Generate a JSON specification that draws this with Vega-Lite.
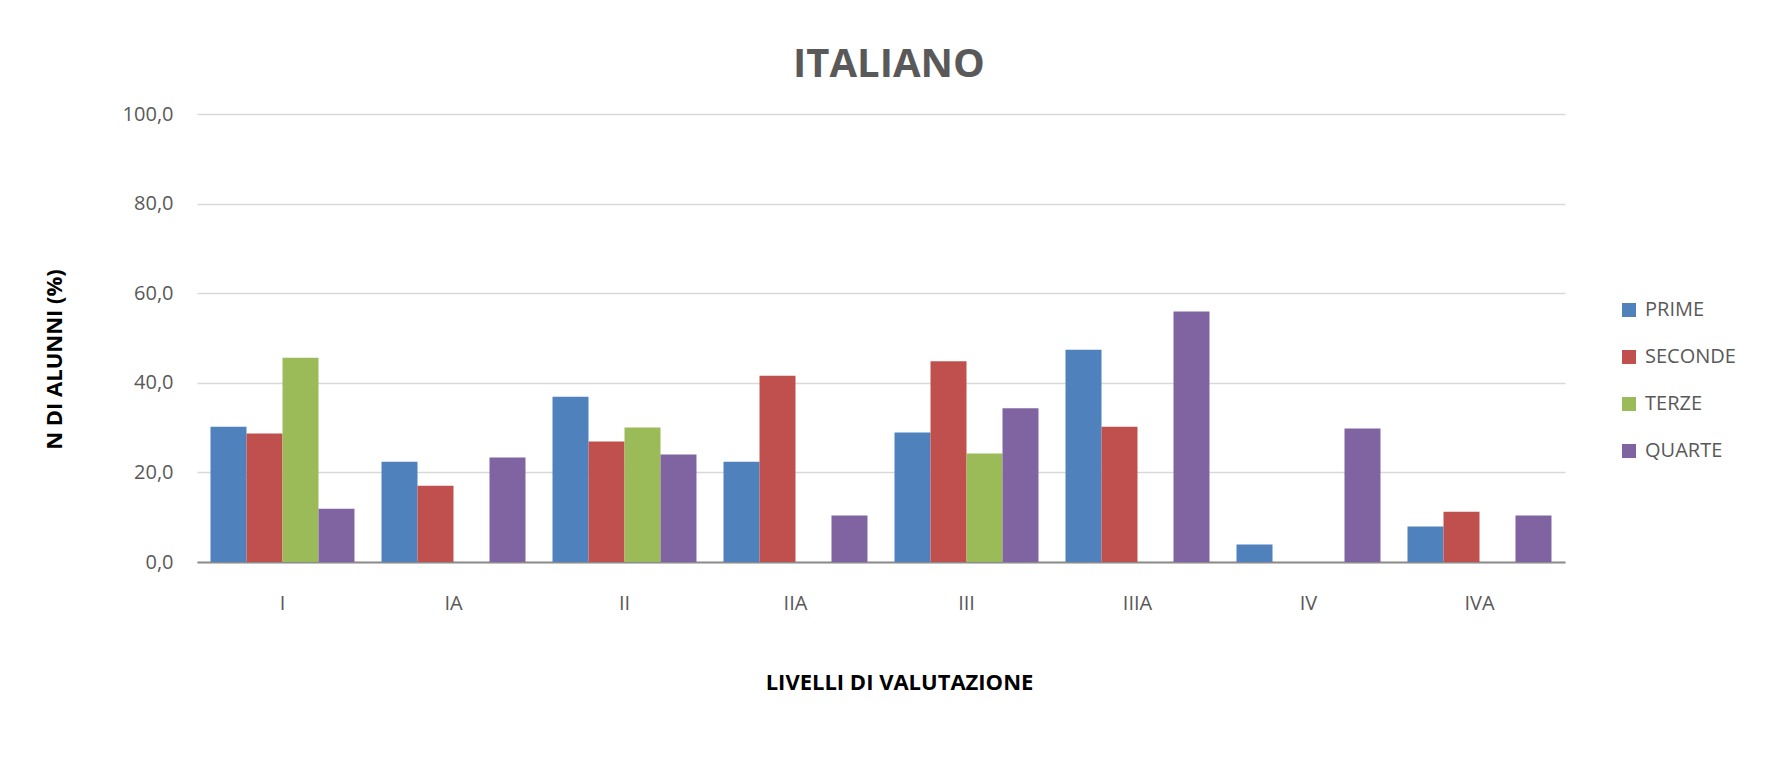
{
  "$schema": "https://vega.github.io/schema/vega-lite/v6.json",
  "autosize": {"type": "none"},
  "padding": {"left": 197, "top": 114, "right": 203, "bottom": 197},
  "width": 1368,
  "height": 448,
  "background": "white",
  "title": {
    "text": "ITALIANO",
    "font": "Open Sans",
    "fontSize": 40,
    "fontWeight": "bold",
    "color": "#595959",
    "anchor": "middle",
    "frame": "group",
    "dx": 8,
    "baseline": "alphabetic",
    "offset": -13
  },
  "data": {
    "values": [
      {"livello": "I", "classe": "PRIME", "valore": 30.2},
      {"livello": "I", "classe": "SECONDE", "valore": 28.7},
      {"livello": "I", "classe": "TERZE", "valore": 45.6},
      {"livello": "I", "classe": "QUARTE", "valore": 11.9},
      {"livello": "IA", "classe": "PRIME", "valore": 22.4},
      {"livello": "IA", "classe": "SECONDE", "valore": 17.0},
      {"livello": "IA", "classe": "TERZE", "valore": 0},
      {"livello": "IA", "classe": "QUARTE", "valore": 23.3},
      {"livello": "II", "classe": "PRIME", "valore": 36.9},
      {"livello": "II", "classe": "SECONDE", "valore": 26.9},
      {"livello": "II", "classe": "TERZE", "valore": 30.0},
      {"livello": "II", "classe": "QUARTE", "valore": 24.0},
      {"livello": "IIA", "classe": "PRIME", "valore": 22.4},
      {"livello": "IIA", "classe": "SECONDE", "valore": 41.6},
      {"livello": "IIA", "classe": "TERZE", "valore": 0},
      {"livello": "IIA", "classe": "QUARTE", "valore": 10.4},
      {"livello": "III", "classe": "PRIME", "valore": 28.9},
      {"livello": "III", "classe": "SECONDE", "valore": 44.8},
      {"livello": "III", "classe": "TERZE", "valore": 24.2},
      {"livello": "III", "classe": "QUARTE", "valore": 34.3},
      {"livello": "IIIA", "classe": "PRIME", "valore": 47.4},
      {"livello": "IIIA", "classe": "SECONDE", "valore": 30.2},
      {"livello": "IIIA", "classe": "TERZE", "valore": 0},
      {"livello": "IIIA", "classe": "QUARTE", "valore": 55.9},
      {"livello": "IV", "classe": "PRIME", "valore": 3.9},
      {"livello": "IV", "classe": "SECONDE", "valore": 0},
      {"livello": "IV", "classe": "TERZE", "valore": 0},
      {"livello": "IV", "classe": "QUARTE", "valore": 29.8},
      {"livello": "IVA", "classe": "PRIME", "valore": 7.9},
      {"livello": "IVA", "classe": "SECONDE", "valore": 11.2},
      {"livello": "IVA", "classe": "TERZE", "valore": 0},
      {"livello": "IVA", "classe": "QUARTE", "valore": 10.4}
    ]
  },
  "mark": {"type": "bar"},
  "encoding": {
    "x": {
      "field": "livello",
      "type": "nominal",
      "sort": ["I", "IA", "II", "IIA", "III", "IIIA", "IV", "IVA"],
      "scale": {"paddingInner": 0.158, "paddingOuter": 0.079},
      "axis": {
        "title": "LIVELLI DI VALUTAZIONE",
        "titleFont": "Open Sans",
        "titleFontSize": 22,
        "titleFontWeight": "bold",
        "titleColor": "#000000",
        "titleX": 702,
        "titleY": 127,
        "titleAlign": "center",
        "titleBaseline": "alphabetic",
        "labelAngle": 0,
        "labelFont": "Open Sans",
        "labelFontSize": 20,
        "labelColor": "#595959",
        "labelBaseline": "alphabetic",
        "labelPadding": 47,
        "ticks": false,
        "tickSize": 0,
        "domainColor": "#8C8C8C",
        "domainWidth": 2,
        "grid": false
      }
    },
    "xOffset": {
      "field": "classe",
      "type": "nominal",
      "sort": ["PRIME", "SECONDE", "TERZE", "QUARTE"],
      "scale": {"domain": ["PRIME", "SECONDE", "TERZE", "QUARTE"], "paddingInner": 0, "paddingOuter": 0}
    },
    "y": {
      "field": "valore",
      "type": "quantitative",
      "scale": {"domain": [0, 100], "nice": false},
      "axis": {
        "title": "N DI ALUNNI (%)",
        "titleFont": "Open Sans",
        "titleFontSize": 22,
        "titleFontWeight": "bold",
        "titleColor": "#000000",
        "titleAngle": -90,
        "titleX": -136,
        "titleY": 245,
        "titleAlign": "center",
        "titleBaseline": "alphabetic",
        "values": [0, 20, 40, 60, 80, 100],
        "labelExpr": "replace(format(datum.value, '.1f'), '.', ',')",
        "labelFont": "Open Sans",
        "labelFontSize": 20,
        "labelColor": "#595959",
        "labelPadding": 24,
        "ticks": false,
        "tickSize": 0,
        "domain": false,
        "grid": true,
        "gridColor": "#D9D9D9",
        "gridWidth": 1.5
      }
    },
    "color": {
      "field": "classe",
      "type": "nominal",
      "sort": ["PRIME", "SECONDE", "TERZE", "QUARTE"],
      "scale": {
        "domain": ["PRIME", "SECONDE", "TERZE", "QUARTE"],
        "range": ["#4F81BD", "#C0504D", "#9BBB59", "#8064A2"]
      },
      "legend": {
        "title": null,
        "orient": "none",
        "legendX": 1422,
        "legendY": 186,
        "padding": 0,
        "symbolType": "square",
        "symbolSize": 196,
        "symbolStrokeWidth": 0,
        "labelFont": "Open Sans",
        "labelFontSize": 20,
        "labelColor": "#595959",
        "labelOffset": 6,
        "rowPadding": 27
      }
    }
  },
  "config": {
    "view": {"stroke": null}
  }
}
